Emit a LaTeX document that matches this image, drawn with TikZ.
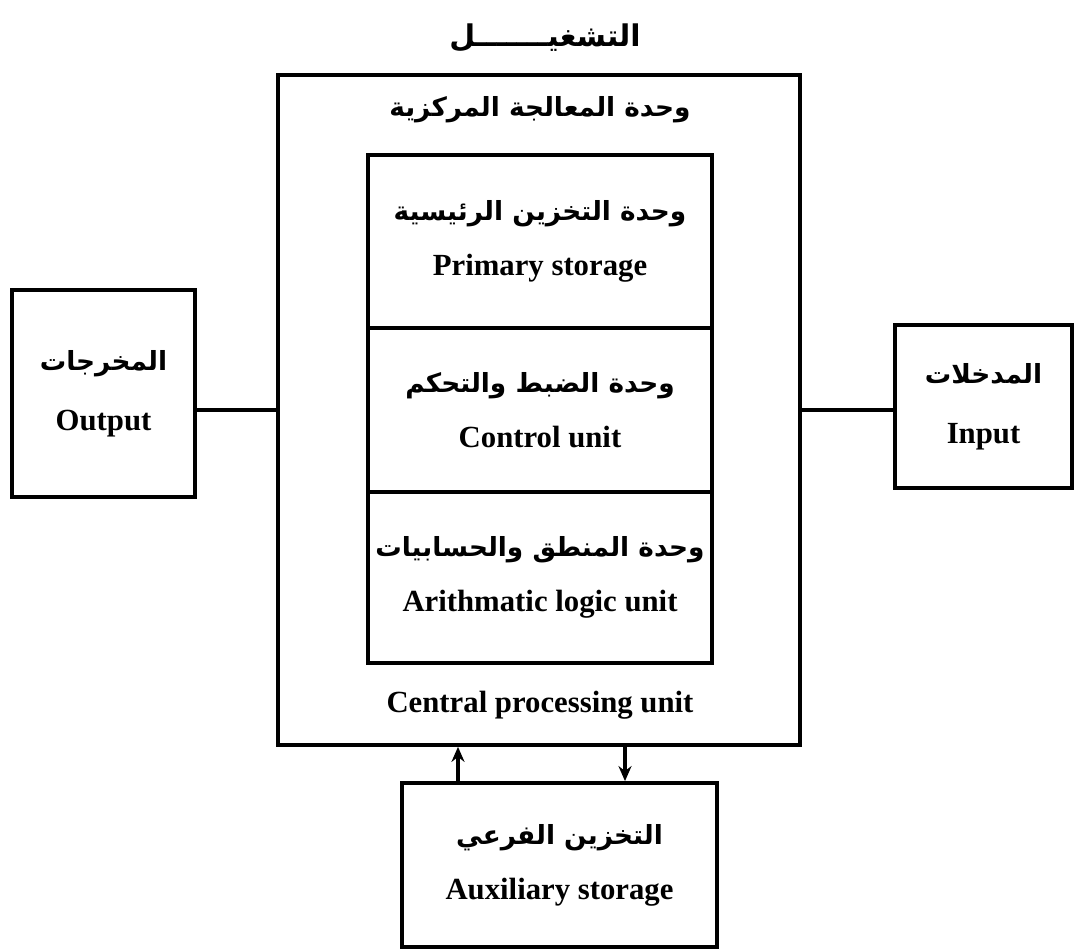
\documentclass[tikz,border=0pt]{standalone}
\usepackage{fontspec}
\setmainfont{Liberation Serif}
\newfontfamily\arabicfont[Script=Arabic]{DejaVu Sans}
\TeXXeTstate=1
\usepackage{tikz}
\usetikzlibrary{arrows.meta, positioning}
\newcommand{\ar}[1]{{\arabicfont\fontsize{15}{18}\selectfont\bfseries\beginR #1\endR}}
\tikzset{
  blk/.style={rectangle, draw=black, line width=2.2pt, inner sep=0pt,
              align=center, font=\fontsize{17.5}{20}\selectfont\bfseries},
  lbl/.style={inner sep=0pt, align=center, font=\fontsize{17.5}{20}\selectfont\bfseries},
  wire/.style={line width=2.2pt},
  arc/.style={-{Stealth[length=3mm, width=2.6mm]}, line width=2.2pt}
}
\begin{document}
\begin{tikzpicture}[x=0.02cm, y=-0.02cm]
  \useasboundingbox (0,0) rectangle (1075,952);
  % titre
  \node[lbl] (title) at (545,38) {{\arabicfont\fontsize{17}{20}\selectfont\bfseries\beginR التشغيـــــــل\endR}};
  % unite centrale
  \node[blk, minimum width=10.44cm, minimum height=13.4cm] (cpu) at (539,410) {};
  \node[lbl] (cpuar) at (540,110) {\ar{وحدة المعالجة المركزية}};
  \node[lbl] (cpuen) at (540,705) {Central processing unit};
  \node[blk, minimum width=6.88cm, minimum height=3.46cm] (prim) at (540,241.5)
    {\ar{وحدة التخزين الرئيسية}\\[4mm] Primary storage};
  \node[blk, minimum width=6.88cm, minimum height=3.28cm] (ctrl) at (540,410)
    {\ar{وحدة الضبط والتحكم}\\[4mm] Control unit};
  \node[blk, minimum width=6.88cm, minimum height=3.42cm] (alu) at (540,577.5)
    {\ar{وحدة المنطق والحسابيات}\\[4mm] Arithmatic logic unit};
  % entrees, sorties
  \node[blk, minimum width=3.66cm, minimum height=4.14cm] (out) at (103.5,393.5)
    {\ar{المخرجات}\\[5mm] Output};
  \node[blk, minimum width=3.54cm, minimum height=3.26cm] (inp) at (983.5,406.5)
    {\ar{المدخلات}\\[5mm] Input};
  \node[blk, minimum width=6.3cm, minimum height=3.28cm] (aux) at (559.5,865)
    {\ar{التخزين الفرعي}\\[4mm] Auxiliary storage};
  \draw[wire] (out.east |- ctrl) -- (cpu.west |- ctrl);
  \draw[wire] (inp.west |- ctrl) -- (cpu.east |- ctrl);
  \coordinate (up) at (458,0);
  \coordinate (dn) at (625,0);
  \draw[arc] (aux.north -| up) -- (cpu.south -| up);
  \draw[arc] (cpu.south -| dn) -- (aux.north -| dn);
\end{tikzpicture}
\end{document}
